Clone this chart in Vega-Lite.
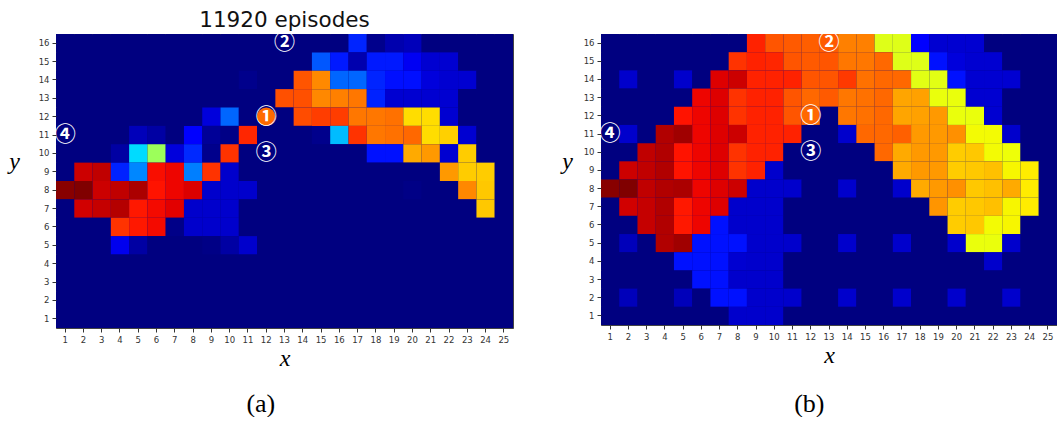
{
"$schema": "https://vega.github.io/schema/vega-lite/v6.json",
"background": "white",
"padding": {"left": 8, "top": 9, "right": 0, "bottom": 0},
"spacing": 47,
"config": {
  "view": {"stroke": "#444", "strokeWidth": 1, "fill": "#000080"},
  "axis": {"grid": false, "domain": false, "labelFont": "DejaVu Sans", "labelFontSize": 8.5, "labelColor": "#333", "tickColor": "#333", "tickSize": 4, "labelPadding": 3, "titleFont": "Liberation Serif", "titleFontStyle": "italic", "titleFontWeight": "normal", "titleFontSize": 24, "titleColor": "#000"}
},
"datasets": {
"ann": [{"k":"①","x":12,"y":12},{"k":"②","x":13,"y":16},{"k":"③","x":12,"y":10},{"k":"④","x":1,"y":11}],
"a": [
{"x":1,"y":16,"v":0},{"x":2,"y":16,"v":0},{"x":3,"y":16,"v":0},{"x":4,"y":16,"v":0},{"x":5,"y":16,"v":0},{"x":6,"y":16,"v":0},{"x":7,"y":16,"v":0},{"x":8,"y":16,"v":0},{"x":9,"y":16,"v":0},{"x":10,"y":16,"v":0},{"x":11,"y":16,"v":0},{"x":12,"y":16,"v":0},{"x":13,"y":16,"v":0},{"x":14,"y":16,"v":0},{"x":15,"y":16,"v":0},{"x":16,"y":16,"v":0},{"x":17,"y":16,"v":0.16},{"x":18,"y":16,"v":0.01},{"x":19,"y":16,"v":0.04},{"x":20,"y":16,"v":0.05},{"x":21,"y":16,"v":0},{"x":22,"y":16,"v":0},{"x":23,"y":16,"v":0},{"x":24,"y":16,"v":0},{"x":25,"y":16,"v":0},
{"x":1,"y":15,"v":0},{"x":2,"y":15,"v":0},{"x":3,"y":15,"v":0},{"x":4,"y":15,"v":0},{"x":5,"y":15,"v":0},{"x":6,"y":15,"v":0},{"x":7,"y":15,"v":0},{"x":8,"y":15,"v":0},{"x":9,"y":15,"v":0},{"x":10,"y":15,"v":0},{"x":11,"y":15,"v":0},{"x":12,"y":15,"v":0},{"x":13,"y":15,"v":0},{"x":14,"y":15,"v":0},{"x":15,"y":15,"v":0.21},{"x":16,"y":15,"v":0.15},{"x":17,"y":15,"v":0.04},{"x":18,"y":15,"v":0.15},{"x":19,"y":15,"v":0.15},{"x":20,"y":15,"v":0.1},{"x":21,"y":15,"v":0.07},{"x":22,"y":15,"v":0.07},{"x":23,"y":15,"v":0},{"x":24,"y":15,"v":0},{"x":25,"y":15,"v":0},
{"x":1,"y":14,"v":0},{"x":2,"y":14,"v":0},{"x":3,"y":14,"v":0},{"x":4,"y":14,"v":0},{"x":5,"y":14,"v":0},{"x":6,"y":14,"v":0},{"x":7,"y":14,"v":0},{"x":8,"y":14,"v":0},{"x":9,"y":14,"v":0},{"x":10,"y":14,"v":0},{"x":11,"y":14,"v":0.01},{"x":12,"y":14,"v":0},{"x":13,"y":14,"v":0},{"x":14,"y":14,"v":0.82},{"x":15,"y":14,"v":0.765},{"x":16,"y":14,"v":0.225},{"x":17,"y":14,"v":0.225},{"x":18,"y":14,"v":0.16},{"x":19,"y":14,"v":0.14},{"x":20,"y":14,"v":0.14},{"x":21,"y":14,"v":0.08},{"x":22,"y":14,"v":0.07},{"x":23,"y":14,"v":0.07},{"x":24,"y":14,"v":0},{"x":25,"y":14,"v":0},
{"x":1,"y":13,"v":0},{"x":2,"y":13,"v":0},{"x":3,"y":13,"v":0},{"x":4,"y":13,"v":0},{"x":5,"y":13,"v":0},{"x":6,"y":13,"v":0},{"x":7,"y":13,"v":0},{"x":8,"y":13,"v":0},{"x":9,"y":13,"v":0},{"x":10,"y":13,"v":0},{"x":11,"y":13,"v":0},{"x":12,"y":13,"v":0},{"x":13,"y":13,"v":0.825},{"x":14,"y":13,"v":0.825},{"x":15,"y":13,"v":0.766},{"x":16,"y":13,"v":0.774},{"x":17,"y":13,"v":0.784},{"x":18,"y":13,"v":0.158},{"x":19,"y":13,"v":0.07},{"x":20,"y":13,"v":0.07},{"x":21,"y":13,"v":0.07},{"x":22,"y":13,"v":0.07},{"x":23,"y":13,"v":0},{"x":24,"y":13,"v":0},{"x":25,"y":13,"v":0},
{"x":1,"y":12,"v":0},{"x":2,"y":12,"v":0},{"x":3,"y":12,"v":0},{"x":4,"y":12,"v":0},{"x":5,"y":12,"v":0},{"x":6,"y":12,"v":0},{"x":7,"y":12,"v":0},{"x":8,"y":12,"v":0},{"x":9,"y":12,"v":0.08},{"x":10,"y":12,"v":0.225},{"x":11,"y":12,"v":0},{"x":12,"y":12,"v":0},{"x":13,"y":12,"v":0},{"x":14,"y":12,"v":0.83},{"x":15,"y":12,"v":0.845},{"x":16,"y":12,"v":0.845},{"x":17,"y":12,"v":0.784},{"x":18,"y":12,"v":0.784},{"x":19,"y":12,"v":0.79},{"x":20,"y":12,"v":0.676},{"x":21,"y":12,"v":0.676},{"x":22,"y":12,"v":0.07},{"x":23,"y":12,"v":0},{"x":24,"y":12,"v":0},{"x":25,"y":12,"v":0},
{"x":1,"y":11,"v":0},{"x":2,"y":11,"v":0},{"x":3,"y":11,"v":0},{"x":4,"y":11,"v":0},{"x":5,"y":11,"v":0.05},{"x":6,"y":11,"v":0.03},{"x":7,"y":11,"v":0},{"x":8,"y":11,"v":0.11},{"x":9,"y":11,"v":0.02},{"x":10,"y":11,"v":0.005},{"x":11,"y":11,"v":0.87},{"x":12,"y":11,"v":0},{"x":13,"y":11,"v":0},{"x":14,"y":11,"v":0},{"x":15,"y":11,"v":0.01},{"x":16,"y":11,"v":0.31},{"x":17,"y":11,"v":0.856},{"x":18,"y":11,"v":0.784},{"x":19,"y":11,"v":0.79},{"x":20,"y":11,"v":0.8},{"x":21,"y":11,"v":0.676},{"x":22,"y":11,"v":0.69},{"x":23,"y":11,"v":0.07},{"x":24,"y":11,"v":0},{"x":25,"y":11,"v":0},
{"x":1,"y":10,"v":0},{"x":2,"y":10,"v":0},{"x":3,"y":10,"v":0},{"x":4,"y":10,"v":0.03},{"x":5,"y":10,"v":0.34},{"x":6,"y":10,"v":0.54},{"x":7,"y":10,"v":0.08},{"x":8,"y":10,"v":0.165},{"x":9,"y":10,"v":0.01},{"x":10,"y":10,"v":0.856},{"x":11,"y":10,"v":0},{"x":12,"y":10,"v":0},{"x":13,"y":10,"v":0},{"x":14,"y":10,"v":0},{"x":15,"y":10,"v":0},{"x":16,"y":10,"v":0},{"x":17,"y":10,"v":0},{"x":18,"y":10,"v":0.142},{"x":19,"y":10,"v":0.142},{"x":20,"y":10,"v":0.73},{"x":21,"y":10,"v":0.748},{"x":22,"y":10,"v":0.07},{"x":23,"y":10,"v":0.694},{"x":24,"y":10,"v":0},{"x":25,"y":10,"v":0},
{"x":1,"y":9,"v":0},{"x":2,"y":9,"v":0.934},{"x":3,"y":9,"v":0.945},{"x":4,"y":9,"v":0.158},{"x":5,"y":9,"v":0.258},{"x":6,"y":9,"v":0.895},{"x":7,"y":9,"v":0.905},{"x":8,"y":9,"v":0.25},{"x":9,"y":9,"v":0.856},{"x":10,"y":9,"v":0.066},{"x":11,"y":9,"v":0},{"x":12,"y":9,"v":0},{"x":13,"y":9,"v":0},{"x":14,"y":9,"v":0},{"x":15,"y":9,"v":0},{"x":16,"y":9,"v":0},{"x":17,"y":9,"v":0},{"x":18,"y":9,"v":0},{"x":19,"y":9,"v":0},{"x":20,"y":9,"v":0},{"x":21,"y":9,"v":0},{"x":22,"y":9,"v":0.748},{"x":23,"y":9,"v":0.694},{"x":24,"y":9,"v":0.694},{"x":25,"y":9,"v":0},
{"x":1,"y":8,"v":0.993},{"x":2,"y":8,"v":1},{"x":3,"y":8,"v":0.934},{"x":4,"y":8,"v":0.945},{"x":5,"y":8,"v":0.963},{"x":6,"y":8,"v":0.89},{"x":7,"y":8,"v":0.905},{"x":8,"y":8,"v":0.92},{"x":9,"y":8,"v":0.066},{"x":10,"y":8,"v":0.066},{"x":11,"y":8,"v":0.066},{"x":12,"y":8,"v":0},{"x":13,"y":8,"v":0},{"x":14,"y":8,"v":0},{"x":15,"y":8,"v":0},{"x":16,"y":8,"v":0},{"x":17,"y":8,"v":0},{"x":18,"y":8,"v":0},{"x":19,"y":8,"v":0},{"x":20,"y":8,"v":0.005},{"x":21,"y":8,"v":0},{"x":22,"y":8,"v":0},{"x":23,"y":8,"v":0.766},{"x":24,"y":8,"v":0.698},{"x":25,"y":8,"v":0},
{"x":1,"y":7,"v":0},{"x":2,"y":7,"v":0.93},{"x":3,"y":7,"v":0.94},{"x":4,"y":7,"v":0.955},{"x":5,"y":7,"v":0.885},{"x":6,"y":7,"v":0.9},{"x":7,"y":7,"v":0.915},{"x":8,"y":7,"v":0.066},{"x":9,"y":7,"v":0.066},{"x":10,"y":7,"v":0.066},{"x":11,"y":7,"v":0},{"x":12,"y":7,"v":0},{"x":13,"y":7,"v":0},{"x":14,"y":7,"v":0},{"x":15,"y":7,"v":0},{"x":16,"y":7,"v":0},{"x":17,"y":7,"v":0},{"x":18,"y":7,"v":0},{"x":19,"y":7,"v":0},{"x":20,"y":7,"v":0},{"x":21,"y":7,"v":0},{"x":22,"y":7,"v":0},{"x":23,"y":7,"v":0},{"x":24,"y":7,"v":0.698},{"x":25,"y":7,"v":0},
{"x":1,"y":6,"v":0},{"x":2,"y":6,"v":0},{"x":3,"y":6,"v":0},{"x":4,"y":6,"v":0.856},{"x":5,"y":6,"v":0.885},{"x":6,"y":6,"v":0.9},{"x":7,"y":6,"v":0.007},{"x":8,"y":6,"v":0.066},{"x":9,"y":6,"v":0.066},{"x":10,"y":6,"v":0.066},{"x":11,"y":6,"v":0},{"x":12,"y":6,"v":0},{"x":13,"y":6,"v":0},{"x":14,"y":6,"v":0},{"x":15,"y":6,"v":0},{"x":16,"y":6,"v":0},{"x":17,"y":6,"v":0},{"x":18,"y":6,"v":0},{"x":19,"y":6,"v":0},{"x":20,"y":6,"v":0},{"x":21,"y":6,"v":0},{"x":22,"y":6,"v":0},{"x":23,"y":6,"v":0},{"x":24,"y":6,"v":0},{"x":25,"y":6,"v":0},
{"x":1,"y":5,"v":0},{"x":2,"y":5,"v":0},{"x":3,"y":5,"v":0},{"x":4,"y":5,"v":0.095},{"x":5,"y":5,"v":0.03},{"x":6,"y":5,"v":0},{"x":7,"y":5,"v":0},{"x":8,"y":5,"v":0},{"x":9,"y":5,"v":0.005},{"x":10,"y":5,"v":0.03},{"x":11,"y":5,"v":0.066},{"x":12,"y":5,"v":0},{"x":13,"y":5,"v":0},{"x":14,"y":5,"v":0},{"x":15,"y":5,"v":0},{"x":16,"y":5,"v":0},{"x":17,"y":5,"v":0},{"x":18,"y":5,"v":0},{"x":19,"y":5,"v":0},{"x":20,"y":5,"v":0},{"x":21,"y":5,"v":0},{"x":22,"y":5,"v":0},{"x":23,"y":5,"v":0},{"x":24,"y":5,"v":0},{"x":25,"y":5,"v":0},
{"x":1,"y":4,"v":0},{"x":2,"y":4,"v":0},{"x":3,"y":4,"v":0},{"x":4,"y":4,"v":0},{"x":5,"y":4,"v":0},{"x":6,"y":4,"v":0},{"x":7,"y":4,"v":0},{"x":8,"y":4,"v":0},{"x":9,"y":4,"v":0},{"x":10,"y":4,"v":0},{"x":11,"y":4,"v":0},{"x":12,"y":4,"v":0},{"x":13,"y":4,"v":0},{"x":14,"y":4,"v":0},{"x":15,"y":4,"v":0},{"x":16,"y":4,"v":0},{"x":17,"y":4,"v":0},{"x":18,"y":4,"v":0},{"x":19,"y":4,"v":0},{"x":20,"y":4,"v":0},{"x":21,"y":4,"v":0},{"x":22,"y":4,"v":0},{"x":23,"y":4,"v":0},{"x":24,"y":4,"v":0},{"x":25,"y":4,"v":0},
{"x":1,"y":3,"v":0},{"x":2,"y":3,"v":0},{"x":3,"y":3,"v":0},{"x":4,"y":3,"v":0},{"x":5,"y":3,"v":0},{"x":6,"y":3,"v":0},{"x":7,"y":3,"v":0},{"x":8,"y":3,"v":0},{"x":9,"y":3,"v":0},{"x":10,"y":3,"v":0},{"x":11,"y":3,"v":0},{"x":12,"y":3,"v":0},{"x":13,"y":3,"v":0},{"x":14,"y":3,"v":0},{"x":15,"y":3,"v":0},{"x":16,"y":3,"v":0},{"x":17,"y":3,"v":0},{"x":18,"y":3,"v":0},{"x":19,"y":3,"v":0},{"x":20,"y":3,"v":0},{"x":21,"y":3,"v":0},{"x":22,"y":3,"v":0},{"x":23,"y":3,"v":0},{"x":24,"y":3,"v":0},{"x":25,"y":3,"v":0},
{"x":1,"y":2,"v":0},{"x":2,"y":2,"v":0},{"x":3,"y":2,"v":0},{"x":4,"y":2,"v":0},{"x":5,"y":2,"v":0},{"x":6,"y":2,"v":0},{"x":7,"y":2,"v":0},{"x":8,"y":2,"v":0},{"x":9,"y":2,"v":0},{"x":10,"y":2,"v":0},{"x":11,"y":2,"v":0},{"x":12,"y":2,"v":0},{"x":13,"y":2,"v":0},{"x":14,"y":2,"v":0},{"x":15,"y":2,"v":0},{"x":16,"y":2,"v":0},{"x":17,"y":2,"v":0},{"x":18,"y":2,"v":0},{"x":19,"y":2,"v":0},{"x":20,"y":2,"v":0},{"x":21,"y":2,"v":0},{"x":22,"y":2,"v":0},{"x":23,"y":2,"v":0},{"x":24,"y":2,"v":0},{"x":25,"y":2,"v":0},
{"x":1,"y":1,"v":0},{"x":2,"y":1,"v":0},{"x":3,"y":1,"v":0},{"x":4,"y":1,"v":0},{"x":5,"y":1,"v":0},{"x":6,"y":1,"v":0},{"x":7,"y":1,"v":0},{"x":8,"y":1,"v":0},{"x":9,"y":1,"v":0},{"x":10,"y":1,"v":0},{"x":11,"y":1,"v":0},{"x":12,"y":1,"v":0},{"x":13,"y":1,"v":0},{"x":14,"y":1,"v":0},{"x":15,"y":1,"v":0},{"x":16,"y":1,"v":0},{"x":17,"y":1,"v":0},{"x":18,"y":1,"v":0},{"x":19,"y":1,"v":0},{"x":20,"y":1,"v":0},{"x":21,"y":1,"v":0},{"x":22,"y":1,"v":0},{"x":23,"y":1,"v":0},{"x":24,"y":1,"v":0},{"x":25,"y":1,"v":0}
],
"b": [
{"x":1,"y":16,"v":0},{"x":2,"y":16,"v":0},{"x":3,"y":16,"v":0},{"x":4,"y":16,"v":0},{"x":5,"y":16,"v":0},{"x":6,"y":16,"v":0},{"x":7,"y":16,"v":0},{"x":8,"y":16,"v":0},{"x":9,"y":16,"v":0.874},{"x":10,"y":16,"v":0.82},{"x":11,"y":16,"v":0.815},{"x":12,"y":16,"v":0.81},{"x":13,"y":16,"v":0.815},{"x":14,"y":16,"v":0.774},{"x":15,"y":16,"v":0.775},{"x":16,"y":16,"v":0.62},{"x":17,"y":16,"v":0.62},{"x":18,"y":16,"v":0.11},{"x":19,"y":16,"v":0.07},{"x":20,"y":16,"v":0.07},{"x":21,"y":16,"v":0.07},{"x":22,"y":16,"v":0},{"x":23,"y":16,"v":0},{"x":24,"y":16,"v":0},{"x":25,"y":16,"v":0},
{"x":1,"y":15,"v":0},{"x":2,"y":15,"v":0},{"x":3,"y":15,"v":0},{"x":4,"y":15,"v":0},{"x":5,"y":15,"v":0},{"x":6,"y":15,"v":0},{"x":7,"y":15,"v":0},{"x":8,"y":15,"v":0.856},{"x":9,"y":15,"v":0.874},{"x":10,"y":15,"v":0.87},{"x":11,"y":15,"v":0.82},{"x":12,"y":15,"v":0.815},{"x":13,"y":15,"v":0.82},{"x":14,"y":15,"v":0.784},{"x":15,"y":15,"v":0.784},{"x":16,"y":15,"v":0.8},{"x":17,"y":15,"v":0.62},{"x":18,"y":15,"v":0.62},{"x":19,"y":15,"v":0.142},{"x":20,"y":15,"v":0.08},{"x":21,"y":15,"v":0.07},{"x":22,"y":15,"v":0.07},{"x":23,"y":15,"v":0},{"x":24,"y":15,"v":0},{"x":25,"y":15,"v":0},
{"x":1,"y":14,"v":0},{"x":2,"y":14,"v":0.066},{"x":3,"y":14,"v":0},{"x":4,"y":14,"v":0},{"x":5,"y":14,"v":0.066},{"x":6,"y":14,"v":0},{"x":7,"y":14,"v":0.919},{"x":8,"y":14,"v":0.934},{"x":9,"y":14,"v":0.874},{"x":10,"y":14,"v":0.874},{"x":11,"y":14,"v":0.874},{"x":12,"y":14,"v":0.82},{"x":13,"y":14,"v":0.82},{"x":14,"y":14,"v":0.85},{"x":15,"y":14,"v":0.79},{"x":16,"y":14,"v":0.8},{"x":17,"y":14,"v":0.8},{"x":18,"y":14,"v":0.625},{"x":19,"y":14,"v":0.625},{"x":20,"y":14,"v":0.142},{"x":21,"y":14,"v":0.07},{"x":22,"y":14,"v":0.07},{"x":23,"y":14,"v":0.07},{"x":24,"y":14,"v":0},{"x":25,"y":14,"v":0},
{"x":1,"y":13,"v":0},{"x":2,"y":13,"v":0},{"x":3,"y":13,"v":0},{"x":4,"y":13,"v":0},{"x":5,"y":13,"v":0},{"x":6,"y":13,"v":0.905},{"x":7,"y":13,"v":0.919},{"x":8,"y":13,"v":0.856},{"x":9,"y":13,"v":0.874},{"x":10,"y":13,"v":0.874},{"x":11,"y":13,"v":0.82},{"x":12,"y":13,"v":0.8},{"x":13,"y":13,"v":0.815},{"x":14,"y":13,"v":0.784},{"x":15,"y":13,"v":0.79},{"x":16,"y":13,"v":0.8},{"x":17,"y":13,"v":0.735},{"x":18,"y":13,"v":0.74},{"x":19,"y":13,"v":0.635},{"x":20,"y":13,"v":0.635},{"x":21,"y":13,"v":0.07},{"x":22,"y":13,"v":0.07},{"x":23,"y":13,"v":0},{"x":24,"y":13,"v":0},{"x":25,"y":13,"v":0},
{"x":1,"y":12,"v":0},{"x":2,"y":12,"v":0},{"x":3,"y":12,"v":0},{"x":4,"y":12,"v":0},{"x":5,"y":12,"v":0.89},{"x":6,"y":12,"v":0.905},{"x":7,"y":12,"v":0.919},{"x":8,"y":12,"v":0.856},{"x":9,"y":12,"v":0.874},{"x":10,"y":12,"v":0.874},{"x":11,"y":12,"v":0.82},{"x":12,"y":12,"v":0.8},{"x":13,"y":12,"v":0},{"x":14,"y":12,"v":0.784},{"x":15,"y":12,"v":0.79},{"x":16,"y":12,"v":0.8},{"x":17,"y":12,"v":0.735},{"x":18,"y":12,"v":0.74},{"x":19,"y":12,"v":0.748},{"x":20,"y":12,"v":0.635},{"x":21,"y":12,"v":0.635},{"x":22,"y":12,"v":0.07},{"x":23,"y":12,"v":0},{"x":24,"y":12,"v":0},{"x":25,"y":12,"v":0},
{"x":1,"y":11,"v":0},{"x":2,"y":11,"v":0.066},{"x":3,"y":11,"v":0},{"x":4,"y":11,"v":0.958},{"x":5,"y":11,"v":0.972},{"x":6,"y":11,"v":0.905},{"x":7,"y":11,"v":0.919},{"x":8,"y":11,"v":0.934},{"x":9,"y":11,"v":0.874},{"x":10,"y":11,"v":0.874},{"x":11,"y":11,"v":0.874},{"x":12,"y":11,"v":0},{"x":13,"y":11,"v":0},{"x":14,"y":11,"v":0.066},{"x":15,"y":11,"v":0.8},{"x":16,"y":11,"v":0.8},{"x":17,"y":11,"v":0.808},{"x":18,"y":11,"v":0.748},{"x":19,"y":11,"v":0.748},{"x":20,"y":11,"v":0.757},{"x":21,"y":11,"v":0.645},{"x":22,"y":11,"v":0.645},{"x":23,"y":11,"v":0.066},{"x":24,"y":11,"v":0},{"x":25,"y":11,"v":0},
{"x":1,"y":10,"v":0},{"x":2,"y":10,"v":0},{"x":3,"y":10,"v":0.945},{"x":4,"y":10,"v":0.958},{"x":5,"y":10,"v":0.89},{"x":6,"y":10,"v":0.905},{"x":7,"y":10,"v":0.919},{"x":8,"y":10,"v":0.856},{"x":9,"y":10,"v":0.874},{"x":10,"y":10,"v":0.874},{"x":11,"y":10,"v":0},{"x":12,"y":10,"v":0},{"x":13,"y":10,"v":0},{"x":14,"y":10,"v":0},{"x":15,"y":10,"v":0},{"x":16,"y":10,"v":0.8},{"x":17,"y":10,"v":0.73},{"x":18,"y":10,"v":0.748},{"x":19,"y":10,"v":0.748},{"x":20,"y":10,"v":0.694},{"x":21,"y":10,"v":0.698},{"x":22,"y":10,"v":0.645},{"x":23,"y":10,"v":0.64},{"x":24,"y":10,"v":0},{"x":25,"y":10,"v":0},
{"x":1,"y":9,"v":0},{"x":2,"y":9,"v":0.934},{"x":3,"y":9,"v":0.945},{"x":4,"y":9,"v":0.958},{"x":5,"y":9,"v":0.89},{"x":6,"y":9,"v":0.905},{"x":7,"y":9,"v":0.919},{"x":8,"y":9,"v":0.856},{"x":9,"y":9,"v":0.874},{"x":10,"y":9,"v":0.066},{"x":11,"y":9,"v":0},{"x":12,"y":9,"v":0},{"x":13,"y":9,"v":0},{"x":14,"y":9,"v":0},{"x":15,"y":9,"v":0},{"x":16,"y":9,"v":0},{"x":17,"y":9,"v":0.73},{"x":18,"y":9,"v":0.748},{"x":19,"y":9,"v":0.748},{"x":20,"y":9,"v":0.694},{"x":21,"y":9,"v":0.698},{"x":22,"y":9,"v":0.707},{"x":23,"y":9,"v":0.65},{"x":24,"y":9,"v":0.66},{"x":25,"y":9,"v":0},
{"x":1,"y":8,"v":0.993},{"x":2,"y":8,"v":1},{"x":3,"y":8,"v":0.945},{"x":4,"y":8,"v":0.958},{"x":5,"y":8,"v":0.963},{"x":6,"y":8,"v":0.905},{"x":7,"y":8,"v":0.919},{"x":8,"y":8,"v":0.934},{"x":9,"y":8,"v":0.066},{"x":10,"y":8,"v":0.066},{"x":11,"y":8,"v":0.066},{"x":12,"y":8,"v":0},{"x":13,"y":8,"v":0},{"x":14,"y":8,"v":0.066},{"x":15,"y":8,"v":0},{"x":16,"y":8,"v":0},{"x":17,"y":8,"v":0.066},{"x":18,"y":8,"v":0.73},{"x":19,"y":8,"v":0.748},{"x":20,"y":8,"v":0.757},{"x":21,"y":8,"v":0.698},{"x":22,"y":8,"v":0.707},{"x":23,"y":8,"v":0.73},{"x":24,"y":8,"v":0.66},{"x":25,"y":8,"v":0},
{"x":1,"y":7,"v":0},{"x":2,"y":7,"v":0.93},{"x":3,"y":7,"v":0.94},{"x":4,"y":7,"v":0.958},{"x":5,"y":7,"v":0.885},{"x":6,"y":7,"v":0.905},{"x":7,"y":7,"v":0.919},{"x":8,"y":7,"v":0.066},{"x":9,"y":7,"v":0.066},{"x":10,"y":7,"v":0.066},{"x":11,"y":7,"v":0},{"x":12,"y":7,"v":0},{"x":13,"y":7,"v":0},{"x":14,"y":7,"v":0},{"x":15,"y":7,"v":0},{"x":16,"y":7,"v":0},{"x":17,"y":7,"v":0},{"x":18,"y":7,"v":0},{"x":19,"y":7,"v":0.752},{"x":20,"y":7,"v":0.694},{"x":21,"y":7,"v":0.698},{"x":22,"y":7,"v":0.707},{"x":23,"y":7,"v":0.65},{"x":24,"y":7,"v":0.66},{"x":25,"y":7,"v":0},
{"x":1,"y":6,"v":0},{"x":2,"y":6,"v":0},{"x":3,"y":6,"v":0.94},{"x":4,"y":6,"v":0.958},{"x":5,"y":6,"v":0.885},{"x":6,"y":6,"v":0.905},{"x":7,"y":6,"v":0.142},{"x":8,"y":6,"v":0.066},{"x":9,"y":6,"v":0.066},{"x":10,"y":6,"v":0.066},{"x":11,"y":6,"v":0},{"x":12,"y":6,"v":0},{"x":13,"y":6,"v":0},{"x":14,"y":6,"v":0},{"x":15,"y":6,"v":0},{"x":16,"y":6,"v":0},{"x":17,"y":6,"v":0},{"x":18,"y":6,"v":0},{"x":19,"y":6,"v":0},{"x":20,"y":6,"v":0.694},{"x":21,"y":6,"v":0.698},{"x":22,"y":6,"v":0.645},{"x":23,"y":6,"v":0.65},{"x":24,"y":6,"v":0},{"x":25,"y":6,"v":0},
{"x":1,"y":5,"v":0},{"x":2,"y":5,"v":0.05},{"x":3,"y":5,"v":0},{"x":4,"y":5,"v":0.958},{"x":5,"y":5,"v":0.972},{"x":6,"y":5,"v":0.142},{"x":7,"y":5,"v":0.142},{"x":8,"y":5,"v":0.142},{"x":9,"y":5,"v":0.066},{"x":10,"y":5,"v":0.066},{"x":11,"y":5,"v":0.066},{"x":12,"y":5,"v":0},{"x":13,"y":5,"v":0},{"x":14,"y":5,"v":0.066},{"x":15,"y":5,"v":0},{"x":16,"y":5,"v":0},{"x":17,"y":5,"v":0.066},{"x":18,"y":5,"v":0},{"x":19,"y":5,"v":0},{"x":20,"y":5,"v":0.066},{"x":21,"y":5,"v":0.635},{"x":22,"y":5,"v":0.635},{"x":23,"y":5,"v":0.066},{"x":24,"y":5,"v":0},{"x":25,"y":5,"v":0},
{"x":1,"y":4,"v":0},{"x":2,"y":4,"v":0},{"x":3,"y":4,"v":0},{"x":4,"y":4,"v":0},{"x":5,"y":4,"v":0.142},{"x":6,"y":4,"v":0.142},{"x":7,"y":4,"v":0.142},{"x":8,"y":4,"v":0.07},{"x":9,"y":4,"v":0.066},{"x":10,"y":4,"v":0.066},{"x":11,"y":4,"v":0},{"x":12,"y":4,"v":0},{"x":13,"y":4,"v":0},{"x":14,"y":4,"v":0},{"x":15,"y":4,"v":0},{"x":16,"y":4,"v":0},{"x":17,"y":4,"v":0},{"x":18,"y":4,"v":0},{"x":19,"y":4,"v":0},{"x":20,"y":4,"v":0},{"x":21,"y":4,"v":0},{"x":22,"y":4,"v":0.066},{"x":23,"y":4,"v":0},{"x":24,"y":4,"v":0},{"x":25,"y":4,"v":0},
{"x":1,"y":3,"v":0},{"x":2,"y":3,"v":0},{"x":3,"y":3,"v":0},{"x":4,"y":3,"v":0},{"x":5,"y":3,"v":0},{"x":6,"y":3,"v":0.142},{"x":7,"y":3,"v":0.142},{"x":8,"y":3,"v":0.066},{"x":9,"y":3,"v":0.066},{"x":10,"y":3,"v":0.066},{"x":11,"y":3,"v":0},{"x":12,"y":3,"v":0},{"x":13,"y":3,"v":0},{"x":14,"y":3,"v":0},{"x":15,"y":3,"v":0},{"x":16,"y":3,"v":0},{"x":17,"y":3,"v":0},{"x":18,"y":3,"v":0},{"x":19,"y":3,"v":0},{"x":20,"y":3,"v":0},{"x":21,"y":3,"v":0},{"x":22,"y":3,"v":0},{"x":23,"y":3,"v":0},{"x":24,"y":3,"v":0},{"x":25,"y":3,"v":0},
{"x":1,"y":2,"v":0},{"x":2,"y":2,"v":0.05},{"x":3,"y":2,"v":0},{"x":4,"y":2,"v":0},{"x":5,"y":2,"v":0.05},{"x":6,"y":2,"v":0},{"x":7,"y":2,"v":0.142},{"x":8,"y":2,"v":0.142},{"x":9,"y":2,"v":0.066},{"x":10,"y":2,"v":0.066},{"x":11,"y":2,"v":0.066},{"x":12,"y":2,"v":0},{"x":13,"y":2,"v":0},{"x":14,"y":2,"v":0.066},{"x":15,"y":2,"v":0},{"x":16,"y":2,"v":0},{"x":17,"y":2,"v":0.066},{"x":18,"y":2,"v":0},{"x":19,"y":2,"v":0},{"x":20,"y":2,"v":0.066},{"x":21,"y":2,"v":0},{"x":22,"y":2,"v":0},{"x":23,"y":2,"v":0.066},{"x":24,"y":2,"v":0},{"x":25,"y":2,"v":0},
{"x":1,"y":1,"v":0},{"x":2,"y":1,"v":0},{"x":3,"y":1,"v":0},{"x":4,"y":1,"v":0},{"x":5,"y":1,"v":0},{"x":6,"y":1,"v":0},{"x":7,"y":1,"v":0},{"x":8,"y":1,"v":0.066},{"x":9,"y":1,"v":0.066},{"x":10,"y":1,"v":0.066},{"x":11,"y":1,"v":0},{"x":12,"y":1,"v":0},{"x":13,"y":1,"v":0},{"x":14,"y":1,"v":0},{"x":15,"y":1,"v":0},{"x":16,"y":1,"v":0},{"x":17,"y":1,"v":0},{"x":18,"y":1,"v":0},{"x":19,"y":1,"v":0},{"x":20,"y":1,"v":0},{"x":21,"y":1,"v":0},{"x":22,"y":1,"v":0},{"x":23,"y":1,"v":0},{"x":24,"y":1,"v":0},{"x":25,"y":1,"v":0}
]
},
"hconcat": [
 {
  "title": {"text": "(a)", "orient": "bottom", "anchor": "middle", "font": "Liberation Serif", "fontSize": 26, "fontWeight": "normal", "color": "#000", "offset": 20},
  "vconcat": [
   {
    "width": 457, "height": 294,
    "title": {"text": "11920 episodes", "anchor": "middle", "frame": "group", "font": "DejaVu Sans", "fontSize": 21.5, "fontWeight": "normal", "color": "#111", "offset": 1},
    "layer": [
     {
      "data": {"name": "a"},
      "mark": {"type": "rect"},
      "encoding": {
       "x": {"field": "x", "type": "ordinal", "sort": "ascending", "scale": {"paddingInner": 0, "paddingOuter": 0}, "axis": {"title": "x", "labelAngle": 0, "titlePadding": 3}},
       "y": {"field": "y", "type": "ordinal", "sort": "descending", "scale": {"paddingInner": 0, "paddingOuter": 0}, "axis": {"title": "y", "titleAngle": 0, "titleAlign": "center", "titleBaseline": "alphabetic", "titleX": -42, "titleY": 134}},
       "color": {"field": "v", "type": "quantitative", "legend": null, "scale": {"domain": [0, 0.11, 0.125, 0.34, 0.35, 0.375, 0.64, 0.65, 0.66, 0.89, 0.91, 1], "range": ["#000080", "#0000ff", "#0000ff", "#00dbff", "#00e6f7", "#15ffe2", "#eeff08", "#f7f600", "#ffec00", "#ff1300", "#e80000", "#800000"], "interpolate": "rgb"}}
      }
     },
     {
      "data": {"name": "ann"},
      "transform": [{"filter": "datum.k == '①'"}],
      "mark": {"type": "point", "shape": "circle", "filled": true, "fill": "#ff6a00", "opacity": 1, "size": 340},
      "encoding": {
       "x": {"field": "x", "type": "ordinal", "sort": "ascending"},
       "y": {"field": "y", "type": "ordinal", "sort": "descending"}
      }
     },
     {
      "data": {"name": "ann"},
      "mark": {"type": "text", "font": "Noto Sans CJK JP", "fontSize": 21, "fontWeight": "bold", "color": "white", "align": "center", "baseline": "middle"},
      "encoding": {
       "x": {"field": "x", "type": "ordinal", "sort": "ascending"},
       "y": {"field": "y", "type": "ordinal", "sort": "descending"},
       "text": {"field": "k"}
      }
     }
    ]
   }
  ]
 },
 {
  "title": {"text": "(b)", "orient": "bottom", "anchor": "middle", "font": "Liberation Serif", "fontSize": 26, "fontWeight": "normal", "color": "#000", "offset": 23},
  "vconcat": [
   {
    "width": 456, "height": 291,
    "layer": [
     {
      "data": {"name": "b"},
      "mark": {"type": "rect"},
      "encoding": {
       "x": {"field": "x", "type": "ordinal", "sort": "ascending", "scale": {"paddingInner": 0, "paddingOuter": 0}, "axis": {"title": "x", "labelAngle": 0, "titlePadding": 3}},
       "y": {"field": "y", "type": "ordinal", "sort": "descending", "scale": {"paddingInner": 0, "paddingOuter": 0}, "axis": {"title": "y", "titleAngle": 0, "titleAlign": "center", "titleBaseline": "alphabetic", "titleX": -34, "titleY": 134}},
       "color": {"field": "v", "type": "quantitative", "legend": null, "scale": {"domain": [0, 0.11, 0.125, 0.34, 0.35, 0.375, 0.64, 0.65, 0.66, 0.89, 0.91, 1], "range": ["#000080", "#0000ff", "#0000ff", "#00dbff", "#00e6f7", "#15ffe2", "#eeff08", "#f7f600", "#ffec00", "#ff1300", "#e80000", "#800000"], "interpolate": "rgb"}}
      }
     },
     {
      "data": {"name": "ann"},
      "mark": {"type": "text", "font": "Noto Sans CJK JP", "fontSize": 21, "fontWeight": "bold", "color": "white", "align": "center", "baseline": "middle"},
      "encoding": {
       "x": {"field": "x", "type": "ordinal", "sort": "ascending"},
       "y": {"field": "y", "type": "ordinal", "sort": "descending"},
       "text": {"field": "k"}
      }
     }
    ]
   }
  ]
 }
]
}
